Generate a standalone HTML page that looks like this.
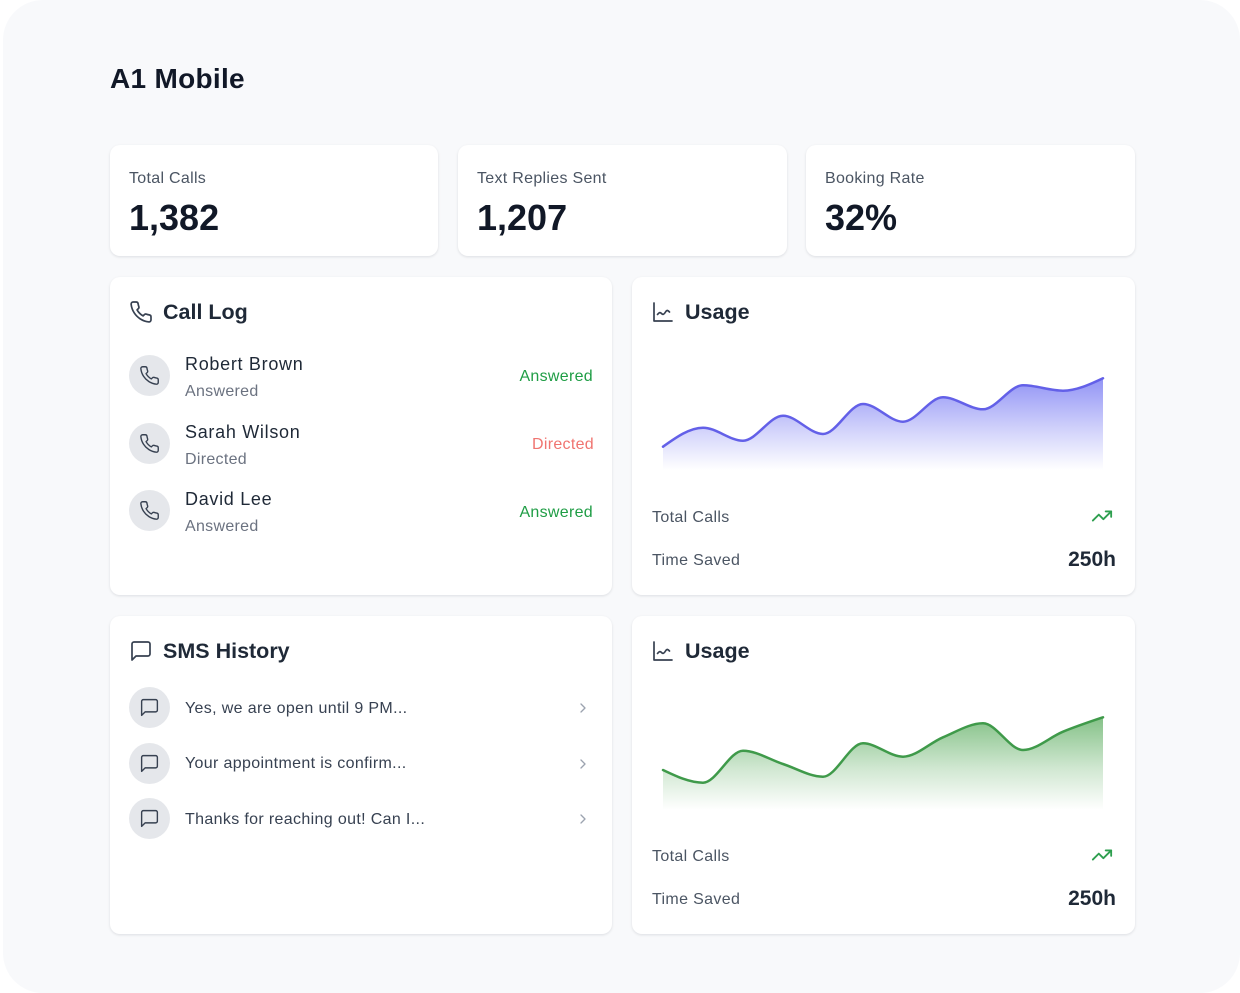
<!DOCTYPE html>
<html>
<head>
<meta charset="utf-8">
<style>
  html,body{margin:0;padding:0;background:#ffffff;}
  body{width:1240px;height:993px;position:relative;overflow:hidden;font-family:"Liberation Sans",Arial,sans-serif;}
  .bg{position:absolute;left:3px;top:0;width:1237px;height:993px;background:#f8f9fb;border-radius:40px;}
  .card{position:absolute;background:#fff;border-radius:10px;box-shadow:0 1px 3px rgba(17,24,39,0.08),0 1px 2px rgba(17,24,39,0.04);}
  .t{position:absolute;white-space:nowrap;}
  .title{left:110px;top:61px;font-size:28px;line-height:36px;font-weight:bold;color:#111827;letter-spacing:0.3px;}
  .slabel{font-size:16px;line-height:20px;color:#4b5563;letter-spacing:0.3px;}
  .sval{font-size:36px;line-height:42px;font-weight:bold;color:#111827;}
  .h{font-size:21.5px;line-height:26px;font-weight:bold;color:#1f2937;}
  .name{font-size:18px;line-height:22px;color:#1f2937;letter-spacing:0.7px;}
  .sub{font-size:16px;line-height:20px;color:#6b7280;letter-spacing:0.3px;}
  .green{color:#1f9d45;}
  .red{color:#f07470;}
  .av{position:absolute;width:41px;height:41px;border-radius:50%;background:#e5e7eb;}
  .av svg{position:absolute;left:10px;top:10px;}
  .lbl{font-size:16px;line-height:20px;color:#4b5563;letter-spacing:0.35px;}
  .big{font-size:21px;line-height:26px;font-weight:bold;color:#1f2937;}
  .sms{font-size:16px;line-height:20px;color:#374151;letter-spacing:0.35px;}
  svg.ov{position:absolute;left:0;top:0;}
</style>
</head>
<body>
<div class="bg"></div>

<div class="t title">A1 Mobile</div>

<!-- stat cards -->
<div class="card" style="left:110px;top:145px;width:328px;height:111px;"></div>
<div class="card" style="left:458px;top:145px;width:329px;height:111px;"></div>
<div class="card" style="left:806px;top:145px;width:329px;height:111px;"></div>
<div class="t slabel" style="left:129px;top:169px;">Total Calls</div>
<div class="t sval" style="left:129px;top:197px;">1,382</div>
<div class="t slabel" style="left:477px;top:169px;">Text Replies Sent</div>
<div class="t sval" style="left:477px;top:197px;">1,207</div>
<div class="t slabel" style="left:825px;top:169px;">Booking Rate</div>
<div class="t sval" style="left:825px;top:197px;">32%</div>

<!-- big cards -->
<div class="card" style="left:110px;top:277px;width:502px;height:318px;"></div>
<div class="card" style="left:632px;top:277px;width:503px;height:318px;"></div>
<div class="card" style="left:110px;top:616px;width:502px;height:318px;"></div>
<div class="card" style="left:632px;top:616px;width:503px;height:318px;"></div>

<!-- Call Log -->
<svg style="position:absolute;left:129px;top:300px;" width="24" height="24" viewBox="0 0 24 24" fill="none" stroke="#374151" stroke-width="1.7" stroke-linecap="round" stroke-linejoin="round"><path d="M22 16.92v3a2 2 0 0 1-2.18 2 19.79 19.79 0 0 1-8.63-3.07 19.5 19.5 0 0 1-6-6 19.79 19.79 0 0 1-3.07-8.67A2 2 0 0 1 4.11 2h3a2 2 0 0 1 2 1.72 12.84 12.84 0 0 0 .7 2.81 2 2 0 0 1-.45 2.11L8.09 9.91a16 16 0 0 0 6 6l1.27-1.27a2 2 0 0 1 2.11-.45 12.84 12.84 0 0 0 2.81.7A2 2 0 0 1 22 16.92z"/></svg>
<div class="t h" style="left:163px;top:299px;">Call Log</div>

<div class="av" style="left:129px;top:355px;"><svg width="21" height="21" viewBox="0 0 24 24" fill="none" stroke="#374151" stroke-width="1.6" stroke-linecap="round" stroke-linejoin="round"><path d="M22 16.92v3a2 2 0 0 1-2.18 2 19.79 19.79 0 0 1-8.63-3.07 19.5 19.5 0 0 1-6-6 19.79 19.79 0 0 1-3.07-8.67A2 2 0 0 1 4.11 2h3a2 2 0 0 1 2 1.72 12.84 12.84 0 0 0 .7 2.81 2 2 0 0 1-.45 2.11L8.09 9.91a16 16 0 0 0 6 6l1.27-1.27a2 2 0 0 1 2.11-.45 12.84 12.84 0 0 0 2.81.7A2 2 0 0 1 22 16.92z"/></svg></div>
<div class="t name" style="left:185px;top:353px;">Robert Brown</div>
<div class="t sub" style="left:185px;top:382px;">Answered</div>
<div class="t sub green" style="right:647px;top:367px;">Answered</div>

<div class="av" style="left:129px;top:423px;"><svg width="21" height="21" viewBox="0 0 24 24" fill="none" stroke="#374151" stroke-width="1.6" stroke-linecap="round" stroke-linejoin="round"><path d="M22 16.92v3a2 2 0 0 1-2.18 2 19.79 19.79 0 0 1-8.63-3.07 19.5 19.5 0 0 1-6-6 19.79 19.79 0 0 1-3.07-8.67A2 2 0 0 1 4.11 2h3a2 2 0 0 1 2 1.72 12.84 12.84 0 0 0 .7 2.81 2 2 0 0 1-.45 2.11L8.09 9.91a16 16 0 0 0 6 6l1.27-1.27a2 2 0 0 1 2.11-.45 12.84 12.84 0 0 0 2.81.7A2 2 0 0 1 22 16.92z"/></svg></div>
<div class="t name" style="left:185px;top:421px;">Sarah Wilson</div>
<div class="t sub" style="left:185px;top:450px;">Directed</div>
<div class="t sub red" style="right:646px;top:435px;">Directed</div>

<div class="av" style="left:129px;top:490px;"><svg width="21" height="21" viewBox="0 0 24 24" fill="none" stroke="#374151" stroke-width="1.6" stroke-linecap="round" stroke-linejoin="round"><path d="M22 16.92v3a2 2 0 0 1-2.18 2 19.79 19.79 0 0 1-8.63-3.07 19.5 19.5 0 0 1-6-6 19.79 19.79 0 0 1-3.07-8.67A2 2 0 0 1 4.11 2h3a2 2 0 0 1 2 1.72 12.84 12.84 0 0 0 .7 2.81 2 2 0 0 1-.45 2.11L8.09 9.91a16 16 0 0 0 6 6l1.27-1.27a2 2 0 0 1 2.11-.45 12.84 12.84 0 0 0 2.81.7A2 2 0 0 1 22 16.92z"/></svg></div>
<div class="t name" style="left:185px;top:488px;">David Lee</div>
<div class="t sub" style="left:185px;top:517px;">Answered</div>
<div class="t sub green" style="right:647px;top:503px;">Answered</div>

<!-- Usage 1 -->
<svg style="position:absolute;left:651px;top:300px;" width="24" height="24" viewBox="0 0 24 24" fill="none" stroke="#374151" stroke-width="1.7" stroke-linecap="round" stroke-linejoin="round"><path d="M3 3v18h18"/><path d="M6.5 14.5c1.5-2 2.5-2.5 4-1s2.5 1 4-1.5 2.5-1.5 4 0"/></svg>
<div class="t h" style="left:685px;top:299px;">Usage</div>
<div class="t lbl" style="left:652px;top:508px;">Total Calls</div>
<svg style="position:absolute;left:1091px;top:505px;" width="22" height="22" viewBox="0 0 24 24" fill="none" stroke="#2e9f4f" stroke-width="2" stroke-linecap="round" stroke-linejoin="round"><polyline points="22 7 13.5 15.5 8.5 10.5 2 17"/><polyline points="16 7 22 7 22 13"/></svg>
<div class="t lbl" style="left:652px;top:551px;">Time Saved</div>
<div class="t big" style="right:124px;top:547px;">250h</div>

<!-- SMS History -->
<svg style="position:absolute;left:129px;top:639px;" width="24" height="24" viewBox="0 0 24 24" fill="none" stroke="#374151" stroke-width="1.7" stroke-linecap="round" stroke-linejoin="round"><path d="M21 15a2 2 0 0 1-2 2H7l-4 4V5a2 2 0 0 1 2-2h14a2 2 0 0 1 2 2z"/></svg>
<div class="t h" style="left:163px;top:638px;">SMS History</div>

<div class="av" style="left:129px;top:687px;"><svg width="21" height="21" viewBox="0 0 24 24" fill="none" stroke="#374151" stroke-width="1.6" stroke-linecap="round" stroke-linejoin="round"><path d="M21 15a2 2 0 0 1-2 2H7l-4 4V5a2 2 0 0 1 2-2h14a2 2 0 0 1 2 2z"/></svg></div>
<div class="t sms" style="left:185px;top:699px;">Yes, we are open until 9 PM...</div>
<div class="av" style="left:129px;top:743px;"><svg width="21" height="21" viewBox="0 0 24 24" fill="none" stroke="#374151" stroke-width="1.6" stroke-linecap="round" stroke-linejoin="round"><path d="M21 15a2 2 0 0 1-2 2H7l-4 4V5a2 2 0 0 1 2-2h14a2 2 0 0 1 2 2z"/></svg></div>
<div class="t sms" style="left:185px;top:754px;">Your appointment is confirm...</div>
<div class="av" style="left:129px;top:798px;"><svg width="21" height="21" viewBox="0 0 24 24" fill="none" stroke="#374151" stroke-width="1.6" stroke-linecap="round" stroke-linejoin="round"><path d="M21 15a2 2 0 0 1-2 2H7l-4 4V5a2 2 0 0 1 2-2h14a2 2 0 0 1 2 2z"/></svg></div>
<div class="t sms" style="left:185px;top:810px;">Thanks for reaching out! Can I...</div>

<svg style="position:absolute;left:575px;top:700px;" width="16" height="16" viewBox="0 0 24 24" fill="none" stroke="#9ca3af" stroke-width="2" stroke-linecap="round" stroke-linejoin="round"><path d="m9 18 6-6-6-6"/></svg>
<svg style="position:absolute;left:575px;top:756px;" width="16" height="16" viewBox="0 0 24 24" fill="none" stroke="#9ca3af" stroke-width="2" stroke-linecap="round" stroke-linejoin="round"><path d="m9 18 6-6-6-6"/></svg>
<svg style="position:absolute;left:575px;top:811px;" width="16" height="16" viewBox="0 0 24 24" fill="none" stroke="#9ca3af" stroke-width="2" stroke-linecap="round" stroke-linejoin="round"><path d="m9 18 6-6-6-6"/></svg>

<!-- Usage 2 -->
<svg style="position:absolute;left:651px;top:639px;" width="24" height="24" viewBox="0 0 24 24" fill="none" stroke="#374151" stroke-width="1.7" stroke-linecap="round" stroke-linejoin="round"><path d="M3 3v18h18"/><path d="M6.5 14.5c1.5-2 2.5-2.5 4-1s2.5 1 4-1.5 2.5-1.5 4 0"/></svg>
<div class="t h" style="left:685px;top:638px;">Usage</div>
<div class="t lbl" style="left:652px;top:847px;">Total Calls</div>
<svg style="position:absolute;left:1091px;top:844px;" width="22" height="22" viewBox="0 0 24 24" fill="none" stroke="#2e9f4f" stroke-width="2" stroke-linecap="round" stroke-linejoin="round"><polyline points="22 7 13.5 15.5 8.5 10.5 2 17"/><polyline points="16 7 22 7 22 13"/></svg>
<div class="t lbl" style="left:652px;top:890px;">Time Saved</div>
<div class="t big" style="right:124px;top:886px;">250h</div>

<!-- charts -->
<svg class="ov" width="1240" height="993" viewBox="0 0 1240 993">
  <defs>
    <linearGradient id="gp" x1="0" y1="0" x2="0" y2="1">
      <stop offset="0" stop-color="#6366f1" stop-opacity="0.7"/>
      <stop offset="0.55" stop-color="#6366f1" stop-opacity="0.3"/>
      <stop offset="1" stop-color="#6366f1" stop-opacity="0"/>
    </linearGradient>
    <linearGradient id="gg" x1="0" y1="0" x2="0" y2="1">
      <stop offset="0" stop-color="#43a047" stop-opacity="0.65"/>
      <stop offset="0.55" stop-color="#43a047" stop-opacity="0.25"/>
      <stop offset="1" stop-color="#43a047" stop-opacity="0"/>
    </linearGradient>
  </defs>
  <path fill="url(#gp)" d="M663,446.7 C676.3,437.2 689.7,427.7 703,427.7 C716.3,427.7 729.7,440.7 743,440.7 C756.3,440.7 769.7,415.7 783,415.7 C796.3,415.7 809.7,434 823,434 C836.3,434 849.7,404 863,404 C876.3,404 889.7,421.7 903,421.7 C916.3,421.7 929.7,397.3 943,397.3 C956.3,397.3 969.7,409.3 983,409.3 C996.3,409.3 1009.7,385.3 1023,385.3 C1036.3,385.3 1049.7,390.7 1063,390.7 C1076.3,390.7 1089.7,384.5 1103,378.3 L1103,470 L663,470 Z"/>
  <path fill="none" stroke="#6360e8" stroke-width="2.5" stroke-linecap="round" d="M663,446.7 C676.3,437.2 689.7,427.7 703,427.7 C716.3,427.7 729.7,440.7 743,440.7 C756.3,440.7 769.7,415.7 783,415.7 C796.3,415.7 809.7,434 823,434 C836.3,434 849.7,404 863,404 C876.3,404 889.7,421.7 903,421.7 C916.3,421.7 929.7,397.3 943,397.3 C956.3,397.3 969.7,409.3 983,409.3 C996.3,409.3 1009.7,385.3 1023,385.3 C1036.3,385.3 1049.7,390.7 1063,390.7 C1076.3,390.7 1089.7,384.5 1103,378.3"/>

  <path fill="url(#gg)" d="M663,770 C676.3,776.35 689.7,782.7 703,782.7 C716.3,782.7 729.7,750.7 743,750.7 C756.3,750.7 769.7,759.67 783,764 C796.3,768.33 809.7,776.7 823,776.7 C836.3,776.7 849.7,743.3 863,743.3 C876.3,743.3 889.7,756.7 903,756.7 C916.3,756.7 929.7,742.87 943,737.3 C956.3,731.73 969.7,723.3 983,723.3 C996.3,723.3 1009.7,750 1023,750 C1036.3,750 1049.7,737.15 1063,731.7 C1076.3,726.25 1089.7,721.77 1103,717.3 L1103,810 L663,810 Z"/>
  <path fill="none" stroke="#3f9a4a" stroke-width="2.5" stroke-linecap="round" d="M663,770 C676.3,776.35 689.7,782.7 703,782.7 C716.3,782.7 729.7,750.7 743,750.7 C756.3,750.7 769.7,759.67 783,764 C796.3,768.33 809.7,776.7 823,776.7 C836.3,776.7 849.7,743.3 863,743.3 C876.3,743.3 889.7,756.7 903,756.7 C916.3,756.7 929.7,742.87 943,737.3 C956.3,731.73 969.7,723.3 983,723.3 C996.3,723.3 1009.7,750 1023,750 C1036.3,750 1049.7,737.15 1063,731.7 C1076.3,726.25 1089.7,721.77 1103,717.3"/>
</svg>
</body>
</html>
